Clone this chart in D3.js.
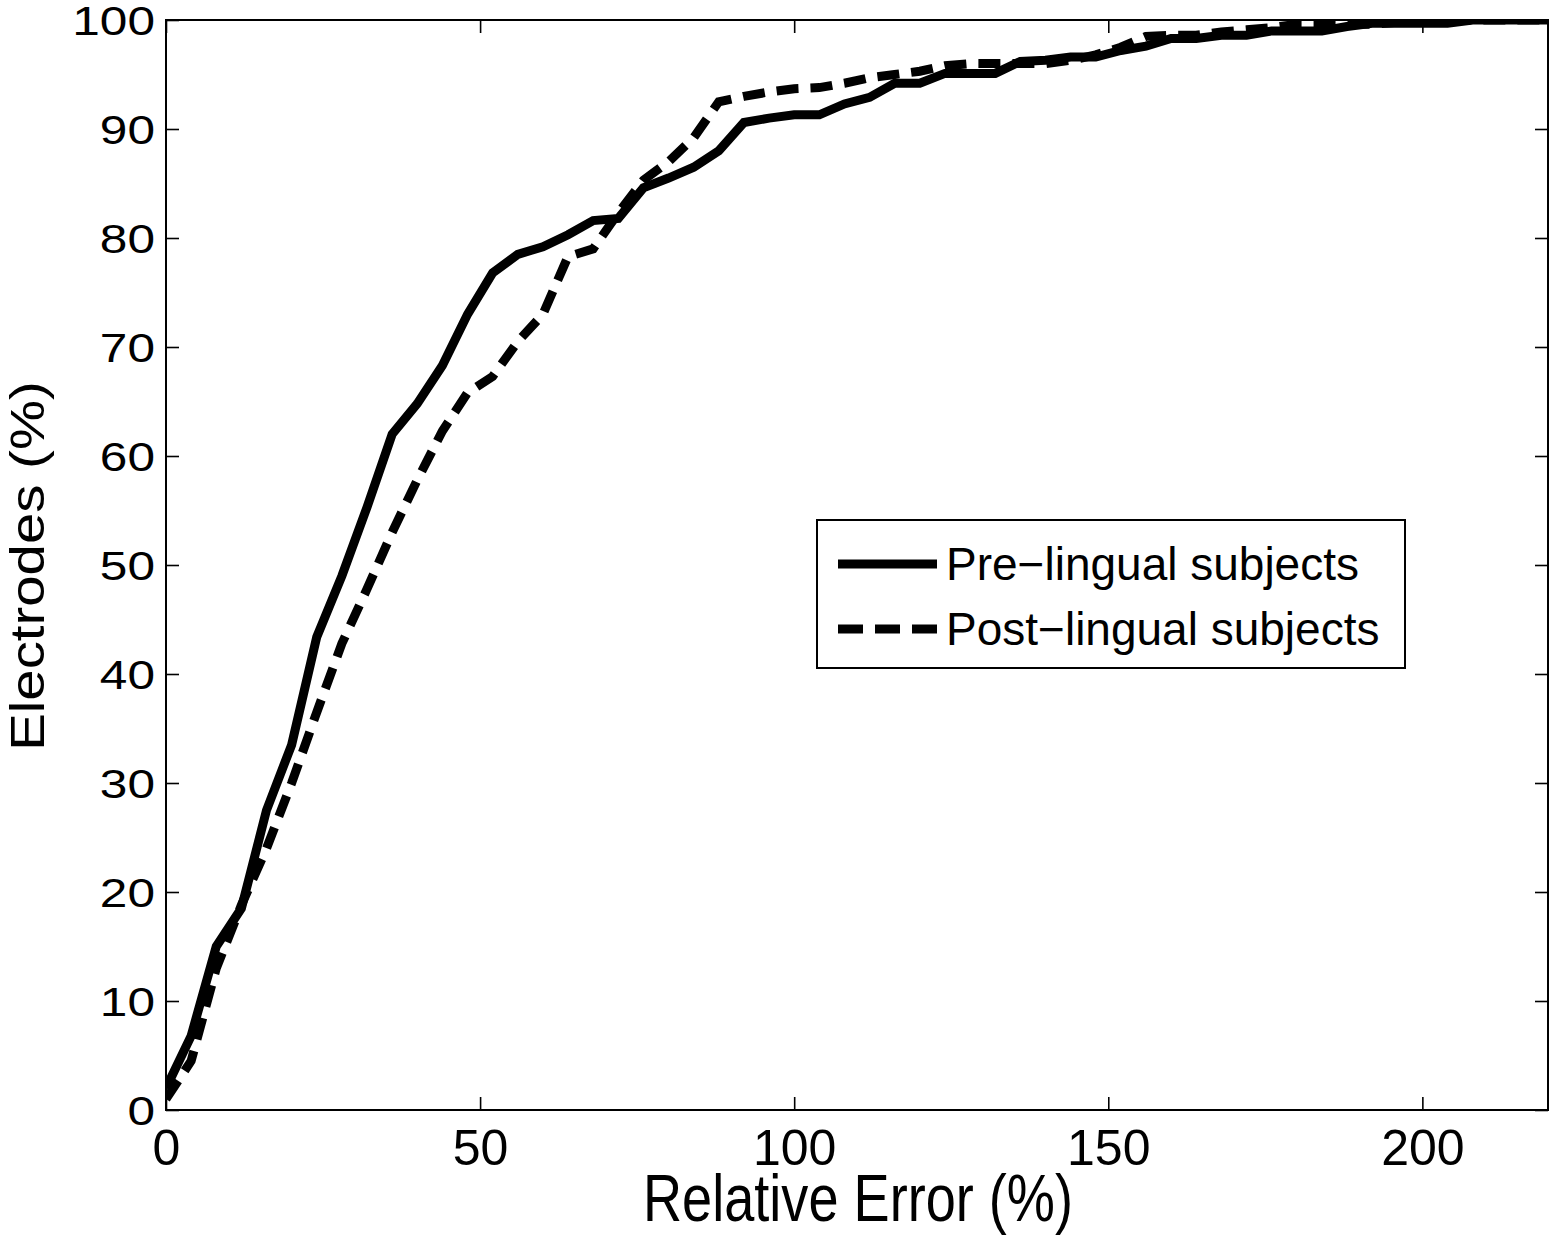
<!DOCTYPE html>
<html>
<head>
<meta charset="utf-8">
<script src="https://cdn.jsdelivr.net/npm/d3@7"></script>
<style>
  html, body { margin: 0; padding: 0; background: #fff; }
  svg { display: block; font-family: "Liberation Sans", Arial, sans-serif; }
</style>
</head>
<body>
<svg id="chart" width="1551" height="1236"></svg>
<script>
// ---- data ----
const relativeError = [0,4,8,12,16,20,24,28,32,36,40,44,48,52,56,60,64,68,72,76,80,84,88,92,96,100,104,108,112,116,120,124,128,132,136,140,144,148,152,156,160,164,168,172,176,180,184,188,192,196,200,204,208,212,216,220];
const preLingual = [2,6.8,15,18.5,27.5,33.5,43.4,49,55.3,62,64.8,68.3,73,76.8,78.5,79.2,80.3,81.6,81.8,84.6,85.5,86.5,88,90.6,91,91.3,91.3,92.3,92.9,94.2,94.2,95.1,95.1,95.1,96.2,96.3,96.6,96.6,97.2,97.6,98.3,98.3,98.6,98.6,99,99,99,99.4,99.7,99.7,99.7,99.7,100,100,100,100];
const postLingual = [1,4.5,13,18.8,24,30,36.5,42.8,47.8,53,57.8,62.3,65.8,67.3,70.5,73,78.3,79,82.3,85.3,87,89.2,92.5,93,93.4,93.7,93.8,94.2,94.7,95,95.3,95.8,96,96,96,96,96.3,96.8,97.5,98.5,98.6,98.6,98.9,99.1,99.3,99.6,99.6,99.6,99.6,99.8,99.8,100,100,100,100,100];
const xTicks = [0,50,100,150,200];
const yTicks = [0,10,20,30,40,50,60,70,80,90,100];
const seriesNames = ["Pre\u2212lingual subjects", "Post\u2212lingual subjects"];
const xLabel = "Relative Error (%)";
const yLabel = "Electrodes (%)";

// ---- layout ----
const L = 166, T = 20, R = 1548, B = 1110;
const svg = d3.select("#chart");
const x = d3.scaleLinear().domain([0, 220]).range([L, R]);
const y = d3.scaleLinear().domain([0, 100]).range([B, T]);

const font = '"Liberation Sans", Arial, sans-serif';

// clip
svg.append("defs").append("clipPath").attr("id", "clip")
  .append("rect").attr("x", L).attr("y", T).attr("width", R - L).attr("height", B - T);

// lines
const line = d3.line().x(d => x(d[0])).y(d => y(d[1]));
const preData = relativeError.map((v, i) => [v, preLingual[i]]);
const postData = relativeError.map((v, i) => [v, postLingual[i]]);

const g = svg.append("g").attr("clip-path", "url(#clip)");
g.append("path").datum(postData).attr("d", line)
  .attr("fill", "none").attr("stroke", "#000").attr("stroke-width", 9)
  .attr("stroke-dasharray", "22,12").attr("stroke-linejoin", "miter");
g.append("path").datum(preData).attr("d", line)
  .attr("fill", "none").attr("stroke", "#000").attr("stroke-width", 9)
  .attr("stroke-linejoin", "miter");

// axes
const tickLen = 13;
const xAxisB = d3.axisBottom(x).tickValues(xTicks).tickSize(-tickLen).tickPadding(19).tickFormat(d3.format("d"));
const xAxisT = d3.axisTop(x).tickValues(xTicks).tickSize(-tickLen).tickFormat("");
const yAxisL = d3.axisLeft(y).tickValues(yTicks).tickSize(-tickLen).tickPadding(11).tickFormat(d3.format("d"));
const yAxisR = d3.axisRight(y).tickValues(yTicks).tickSize(-tickLen).tickFormat("");

function styleAxis(sel) {
  sel.select(".domain").remove();
  sel.selectAll(".tick line").attr("stroke", "#000").attr("stroke-width", 1.6);
}

const gxb = svg.append("g").attr("transform", `translate(0,${B})`).call(xAxisB);
styleAxis(gxb);
gxb.selectAll(".tick text").attr("font-family", font).attr("font-size", 50).attr("fill", "#000");

const gxt = svg.append("g").attr("transform", `translate(0,${T})`).call(xAxisT);
styleAxis(gxt);

const gyl = svg.append("g").attr("transform", `translate(${L},0)`).call(yAxisL);
styleAxis(gyl);
gyl.selectAll(".tick text")
  .attr("font-family", font).attr("font-size", 40).attr("fill", "#000")
  .attr("x", 0).attr("dy", "0.37em")
  .attr("transform", "translate(-11,0) scale(1.24,1)");

const gyr = svg.append("g").attr("transform", `translate(${R},0)`).call(yAxisR);
styleAxis(gyr);

// frame
svg.append("rect").attr("x", L).attr("y", T).attr("width", R - L).attr("height", B - T)
  .attr("fill", "none").attr("stroke", "#000").attr("stroke-width", 2);

// axis titles
svg.append("text")
  .attr("transform", `translate(858,1221) scale(0.82,1)`)
  .attr("text-anchor", "middle").attr("font-family", font).attr("font-size", 66).attr("fill", "#000")
  .text(xLabel);

svg.append("text")
  .attr("transform", `translate(44,566) rotate(-90) scale(1.15,1)`)
  .attr("text-anchor", "middle").attr("font-family", font).attr("font-size", 49).attr("fill", "#000")
  .text(yLabel);

// legend
const lg = svg.append("g");
lg.append("rect").attr("x", 817).attr("y", 520).attr("width", 588).attr("height", 148)
  .attr("fill", "#fff").attr("stroke", "#000").attr("stroke-width", 2);
const legendRows = [
  { name: seriesNames[0], dash: null, cy: 564 },
  { name: seriesNames[1], dash: "25,12", cy: 629 }
];
legendRows.forEach(r => {
  lg.append("line").attr("x1", 838).attr("x2", 937).attr("y1", r.cy).attr("y2", r.cy)
    .attr("stroke", "#000").attr("stroke-width", 9)
    .attr("stroke-dasharray", r.dash);
  lg.append("text").attr("x", 946).attr("y", r.cy + 16)
    .attr("font-family", font).attr("font-size", 46).attr("fill", "#000")
    .text(r.name);
});
</script>
</body>
</html>
